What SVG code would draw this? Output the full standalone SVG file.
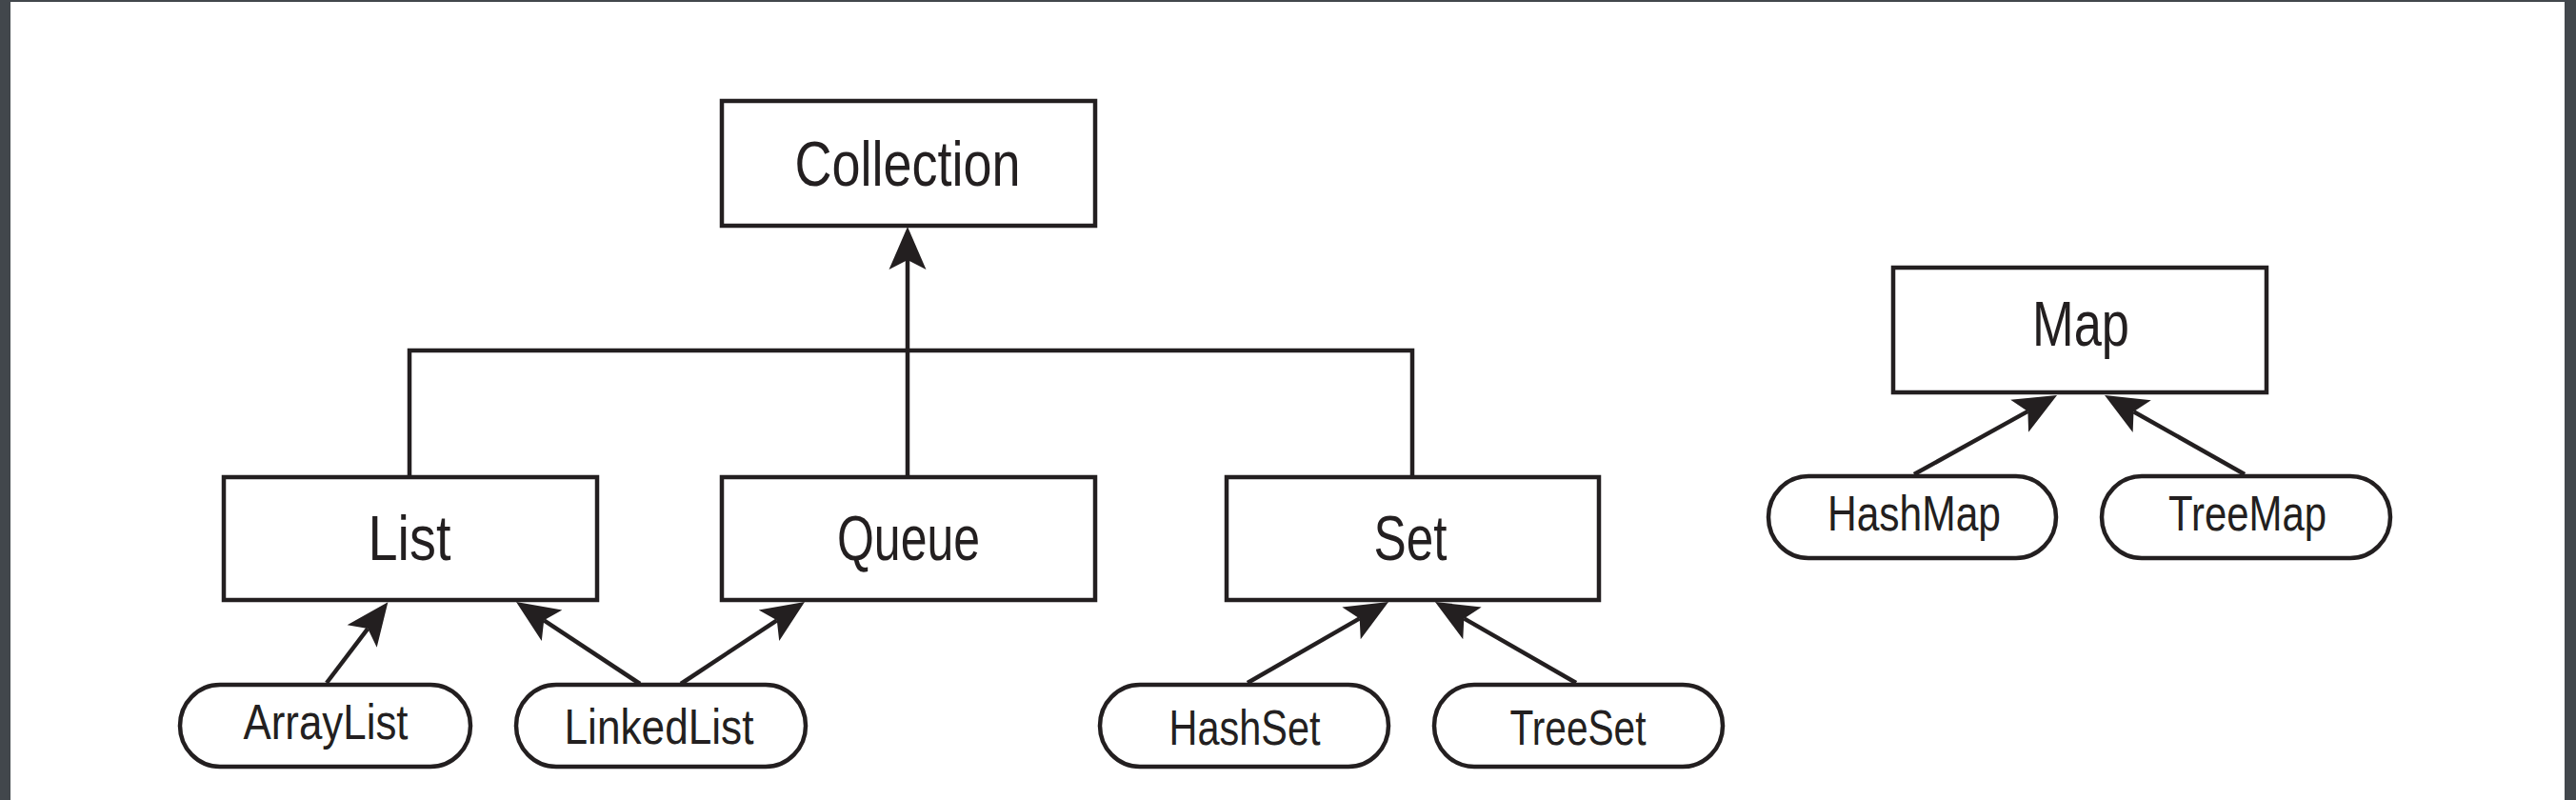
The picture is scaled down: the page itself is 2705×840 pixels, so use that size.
<svg xmlns="http://www.w3.org/2000/svg" width="2705" height="840" viewBox="0 0 2705 840">
<style>
.box{fill:#fff;stroke:#231f20;stroke-width:4.5}
.pill{fill:#fff;stroke:#231f20;stroke-width:4.5}
.lbl{font-family:"Liberation Sans",Arial,sans-serif;font-size:67px;fill:#231f20;text-anchor:middle}
.sm{font-family:"Liberation Sans",Arial,sans-serif;font-size:52px;fill:#231f20;text-anchor:middle}
.con{fill:none;stroke:#231f20;stroke-width:4.5}
</style>
<defs>
<marker id="arr" markerUnits="userSpaceOnUse" viewBox="-12 -21 50 42" refX="0" refY="0" markerWidth="50" markerHeight="42" orient="auto">
<path d="M35,0 L-10,-19.5 L0,0 L-10,19.5 Z" fill="#231f20"/>
</marker>
</defs>
<rect x="0" y="0" width="2705" height="840" fill="#fff"/>
<rect x="0" y="0" width="11" height="840" fill="#42474c"/>
<rect x="2693" y="0" width="12" height="840" fill="#42474c"/>
<rect x="0" y="0" width="2705" height="2" fill="#42474c"/>
<g id="connectors">
<path class="con" d="M430,499 V368 H1483 V499"/>
<path class="con" d="M953,499 V273" marker-end="url(#arr)"/>
<path class="con" d="M343,717 L386.2,660.1" marker-end="url(#arr)"/>
<path class="con" d="M672,718 L571.2,651.3" marker-end="url(#arr)"/>
<path class="con" d="M715,718 L815.8,651.3" marker-end="url(#arr)"/>
<path class="con" d="M1310,717 L1427.7,649.4" marker-end="url(#arr)"/>
<path class="con" d="M1655,717 L1537.3,649.4" marker-end="url(#arr)"/>
<path class="con" d="M2010,498 L2129.4,431.9" marker-end="url(#arr)"/>
<path class="con" d="M2357,498 L2240.5,432.2" marker-end="url(#arr)"/>
</g>
<g id="collection"><rect class="box" x="758" y="106" width="392" height="131"/><text class="lbl" x="953" y="195" textLength="237" lengthAdjust="spacingAndGlyphs">Collection</text></g>
<g id="list"><rect class="box" x="235" y="501" width="392" height="129"/><text class="lbl" x="430" y="588" textLength="87" lengthAdjust="spacingAndGlyphs">List</text></g>
<g id="queue"><rect class="box" x="758" y="501" width="392" height="129"/><text class="lbl" x="954" y="588" textLength="150" lengthAdjust="spacingAndGlyphs">Queue</text></g>
<g id="set"><rect class="box" x="1288" y="501" width="391" height="129"/><text class="lbl" x="1481" y="588" textLength="77" lengthAdjust="spacingAndGlyphs">Set</text></g>
<g id="map"><rect class="box" x="1988" y="281" width="392" height="131"/><text class="lbl" x="2185" y="363" textLength="102" lengthAdjust="spacingAndGlyphs">Map</text></g>
<g id="arraylist"><rect class="pill" x="189" y="719" width="305" height="86" rx="42" ry="43"/><text class="sm" x="342" y="776" textLength="173" lengthAdjust="spacingAndGlyphs">ArrayList</text></g>
<g id="linkedlist"><rect class="pill" x="542" y="719" width="304" height="86" rx="42" ry="43"/><text class="sm" x="692" y="781" textLength="199" lengthAdjust="spacingAndGlyphs">LinkedList</text></g>
<g id="hashset"><rect class="pill" x="1155" y="719" width="303" height="86" rx="42" ry="43"/><text class="sm" x="1307" y="782" textLength="159" lengthAdjust="spacingAndGlyphs">HashSet</text></g>
<g id="treeset"><rect class="pill" x="1506" y="719" width="303" height="86" rx="42" ry="43"/><text class="sm" x="1657" y="782" textLength="143" lengthAdjust="spacingAndGlyphs">TreeSet</text></g>
<g id="hashmap"><rect class="pill" x="1857" y="500" width="302" height="86" rx="42" ry="43"/><text class="sm" x="2010" y="557" textLength="182" lengthAdjust="spacingAndGlyphs">HashMap</text></g>
<g id="treemap"><rect class="pill" x="2207" y="500" width="303" height="86" rx="42" ry="43"/><text class="sm" x="2360" y="557" textLength="166" lengthAdjust="spacingAndGlyphs">TreeMap</text></g>
</svg>
